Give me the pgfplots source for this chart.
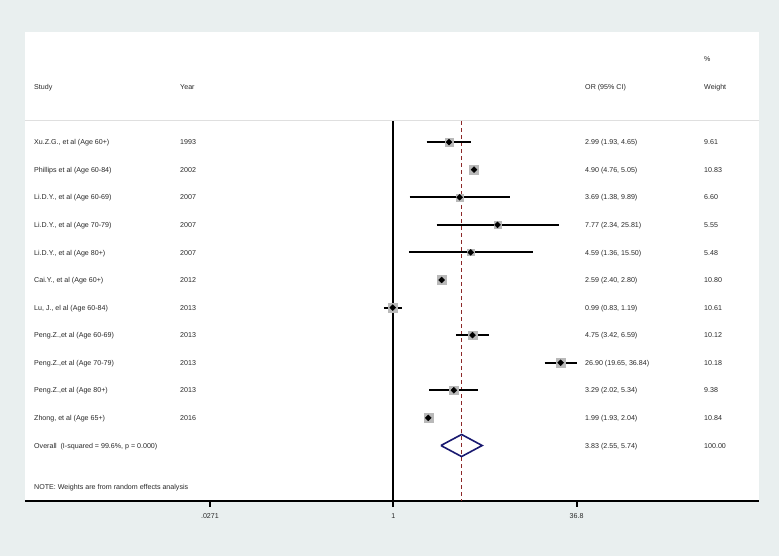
\documentclass[border=0pt]{standalone}
\usepackage{pgfplots}
\pgfplotsset{compat=1.18}
\usepackage{pgfplotstable}
\usepackage{fontspec}
\setmainfont{Liberation Sans}
\definecolor{bgc}{RGB}{233,239,239}
\definecolor{boxc}{RGB}{185,185,185}
\definecolor{refc}{RGB}{140,40,40}
\definecolor{diac}{RGB}{25,25,112}
\definecolor{txt}{RGB}{40,40,40}
\pgfplotstableread{
row or lo hi w
11 2.99 1.93 4.65 9.61
10 4.90 4.76 5.05 10.83
9 3.69 1.38 9.89 6.60
8 7.77 2.34 25.81 5.55
7 4.59 1.36 15.50 5.48
6 2.59 2.40 2.80 10.80
5 0.99 0.83 1.19 10.61
4 4.75 3.42 6.59 10.12
3 26.90 19.65 36.84 10.18
2 3.29 2.02 5.34 9.38
1 1.99 1.93 2.04 10.84
}\studies
\begin{document}
\begin{tikzpicture}[x=1pt,y=1pt,font=\fontsize{7.1}{8.5}\selectfont]
\fill[bgc] (0,0) rectangle (779,556);
\begin{axis}[
  at={(25pt,55.3pt)}, anchor=south west,
  scale only axis, width=734.3pt, height=469pt,
  xmode=log, xmin=7.13e-4, xmax=1339,
  ymin=-2, ymax=15,
  axis background/.style={fill=white},
  axis x line*=bottom, axis y line=none,
  axis line style={-, line width=1.8pt, black},
  xtick={0.0271,1,36.8}, xticklabels={.0271,1,36.8},
  minor xtick={},
  tick align=outside, major tick length=6pt,
  xtick style={black, line width=1.8pt},
  xticklabel style={font=\fontsize{7.1}{8.5}\selectfont, text=txt, yshift=-3pt},
  clip=false,
]
% separator
\draw[gray!25, line width=1pt] (axis cs:7.13e-4,11.77) -- (axis cs:1339,11.77);
% null line and overall line
\addplot[black, line width=1.8pt] coordinates {(1,11.76) (1,-2)};
\addplot[refc, line width=1.1pt, dash pattern=on 4pt off 3pt] coordinates {(3.83,11.76) (3.83,-2)};
% weight boxes
\addplot[scatter, only marks, mark=square*,
  scatter/use mapped color={draw=boxc, fill=boxc},
  visualization depends on={1.37*sqrt(\thisrow{w}) \as \ms},
  scatter/@pre marker code/.append style={/tikz/mark size=\ms}]
  table[x=or, y=row] {\studies};
% confidence intervals
\addplot[black, line width=1.9pt] coordinates {(1.93,11) (4.65,11)};
\addplot[black, line width=1.9pt] coordinates {(4.76,10) (5.05,10)};
\addplot[black, line width=1.9pt] coordinates {(1.38,9) (9.89,9)};
\addplot[black, line width=1.9pt] coordinates {(2.34,8) (25.81,8)};
\addplot[black, line width=1.9pt] coordinates {(1.36,7) (15.50,7)};
\addplot[black, line width=1.9pt] coordinates {(2.40,6) (2.80,6)};
\addplot[black, line width=1.9pt] coordinates {(0.83,5) (1.19,5)};
\addplot[black, line width=1.9pt] coordinates {(3.42,4) (6.59,4)};
\addplot[black, line width=1.9pt] coordinates {(19.65,3) (36.84,3)};
\addplot[black, line width=1.9pt] coordinates {(2.02,2) (5.34,2)};
\addplot[black, line width=1.9pt] coordinates {(1.93,1) (2.04,1)};
% point estimates
\addplot[only marks, mark=square*, mark size=2.1pt, mark options={rotate=45}, black] table[x=or, y=row] {\studies};
% overall diamond
\addplot[diac, line width=1.6pt, line join=miter] coordinates {(2.55,0) (3.83,0.4) (5.74,0) (3.83,-0.4) (2.55,0)};
% text columns
\begin{scope}[every node/.style={anchor=mid west, inner sep=0pt, text=txt}]
\node at (axis cs:8.51e-4,13) {Study};
\node at (axis cs:0.01505,13) {Year};
\node at (axis cs:43.45,13) {OR (95\% CI)};
\node at (axis cs:451.2,14) {\%};
\node at (axis cs:451.2,13) {Weight};
\node at (axis cs:8.51e-4,11) {Xu.Z.G., et al (Age 60+)};
\node at (axis cs:8.51e-4,10) {Phillips et al (Age 60-84)};
\node at (axis cs:8.51e-4,9) {Li.D.Y., et al (Age 60-69)};
\node at (axis cs:8.51e-4,8) {Li.D.Y., et al (Age 70-79)};
\node at (axis cs:8.51e-4,7) {Li.D.Y., et al (Age 80+)};
\node at (axis cs:8.51e-4,6) {Cai.Y., et al (Age 60+)};
\node at (axis cs:8.51e-4,5) {Lu, J., el al (Age 60-84)};
\node at (axis cs:8.51e-4,4) {Peng.Z.,et al (Age 60-69)};
\node at (axis cs:8.51e-4,3) {Peng.Z.,et al (Age 70-79)};
\node at (axis cs:8.51e-4,2) {Peng.Z.,et al (Age 80+)};
\node at (axis cs:8.51e-4,1) {Zhong, et al (Age 65+)};
\node at (axis cs:8.51e-4,0) {Overall\ \ (I-squared = 99.6\%, p = 0.000)};
\node at (axis cs:8.51e-4,-1.5) {NOTE: Weights are from random effects analysis};
\node at (axis cs:0.01505,11) {1993};
\node at (axis cs:0.01505,10) {2002};
\node at (axis cs:0.01505,9) {2007};
\node at (axis cs:0.01505,8) {2007};
\node at (axis cs:0.01505,7) {2007};
\node at (axis cs:0.01505,6) {2012};
\node at (axis cs:0.01505,5) {2013};
\node at (axis cs:0.01505,4) {2013};
\node at (axis cs:0.01505,3) {2013};
\node at (axis cs:0.01505,2) {2013};
\node at (axis cs:0.01505,1) {2016};
\node at (axis cs:43.45,11) {2.99 (1.93, 4.65)};
\node at (axis cs:43.45,10) {4.90 (4.76, 5.05)};
\node at (axis cs:43.45,9) {3.69 (1.38, 9.89)};
\node at (axis cs:43.45,8) {7.77 (2.34, 25.81)};
\node at (axis cs:43.45,7) {4.59 (1.36, 15.50)};
\node at (axis cs:43.45,6) {2.59 (2.40, 2.80)};
\node at (axis cs:43.45,5) {0.99 (0.83, 1.19)};
\node at (axis cs:43.45,4) {4.75 (3.42, 6.59)};
\node at (axis cs:43.45,3) {26.90 (19.65, 36.84)};
\node at (axis cs:43.45,2) {3.29 (2.02, 5.34)};
\node at (axis cs:43.45,1) {1.99 (1.93, 2.04)};
\node at (axis cs:43.45,0) {3.83 (2.55, 5.74)};
\node at (axis cs:451.2,11) {9.61};
\node at (axis cs:451.2,10) {10.83};
\node at (axis cs:451.2,9) {6.60};
\node at (axis cs:451.2,8) {5.55};
\node at (axis cs:451.2,7) {5.48};
\node at (axis cs:451.2,6) {10.80};
\node at (axis cs:451.2,5) {10.61};
\node at (axis cs:451.2,4) {10.12};
\node at (axis cs:451.2,3) {10.18};
\node at (axis cs:451.2,2) {9.38};
\node at (axis cs:451.2,1) {10.84};
\node at (axis cs:451.2,0) {100.00};
\end{scope}
\end{axis}
\pgfresetboundingbox
\path (0,0) rectangle (779,556);
\end{tikzpicture}
\end{document}
